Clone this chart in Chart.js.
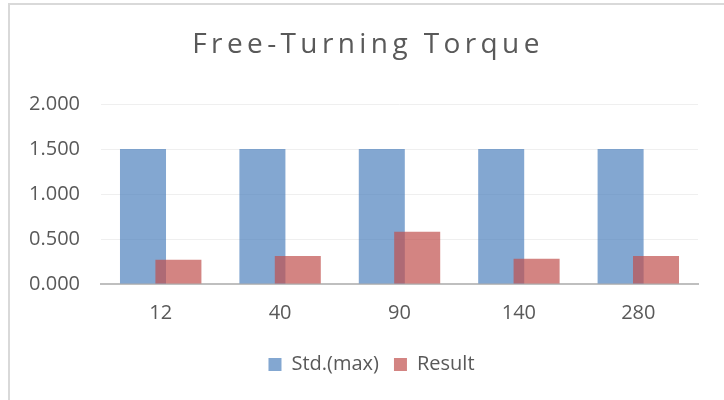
<!DOCTYPE html>
<html><head><meta charset="utf-8">
<script src="https://cdn.jsdelivr.net/npm/chart.js@4.4.0/dist/chart.umd.min.js"></script>
<style>
html,body{margin:0;padding:0;background:#fff;overflow:hidden;width:724px;height:400px;}
#frame{position:absolute;left:8px;top:3px;width:800px;height:500px;border-left:2px solid #d9d9d9;border-top:2px solid #d9d9d9;box-sizing:border-box;}
#wrap{position:absolute;left:0;top:0;width:724px;height:400px;}
</style></head><body>
<div id="frame"></div>
<div id="wrap"><canvas id="c"></canvas></div>
<script>
const categories = ['12', '40', '90', '140', '280'];
const stdMax = [1.5, 1.5, 1.5, 1.5, 1.5];
const result = [0.27, 0.31, 0.58, 0.28, 0.31];
const yTickValues = [0, 0.5, 1, 1.5, 2];
const yTickLabels = ['0.000', '0.500', '1.000', '1.500', '2.000'];
const seriesNames = ['Std.(max)', 'Result'];
const chartTitle = 'Free-Turning Torque';

const FONT = "'Open Sans', sans-serif";
Chart.defaults.font.family = FONT;
Chart.defaults.color = '#595959';

function patchBox(box, dx, spacing) {
  if (!box || box.$patched) return;
  const orig = box.draw.bind(box);
  box.draw = function () {
    const c = this.ctx;
    c.save();
    c.translate(dx, 0);
    if (spacing) c.letterSpacing = spacing;
    orig();
    c.restore();
  };
  box.$patched = true;
}

// draw the Result series on top of Std.(max), as in the reference
const resultOnTop = {
  id: 'resultOnTop',
  beforeDatasetDraw(chart, args) {
    if (args.index === 1 && !chart.$topPass) return false;
  },
  afterDatasetsDraw(chart) {
    chart.$topPass = true;
    chart.getDatasetMeta(1).controller.draw();
    chart.$topPass = false;
  },
  beforeDraw(chart) {
    patchBox(chart.titleBlock, 9.5, '4.4px');
    patchBox(chart.legend, 13, null);
  }
};

new Chart(document.getElementById('c'), {
  type: 'bar',
  data: {
    labels: categories,
    datasets: [
      { label: seriesNames[0], data: stdMax, backgroundColor: 'rgba(79,129,189,0.7)', borderWidth: 0 },
      { label: seriesNames[1], data: result, backgroundColor: 'rgba(192,80,77,0.7)', borderWidth: 0 }
    ]
  },
  options: {
    responsive: true,
    maintainAspectRatio: false,
    animation: false,
    categoryPercentage: 0.593,
    barPercentage: 1.3,
    layout: { padding: { left: 19, right: 26, top: 0, bottom: 15.5 } },
    plugins: {
      title: {
        display: true,
        text: chartTitle,
        color: '#595959',
        font: { size: 28, weight: 'normal', family: FONT },
        padding: { top: 28, bottom: 42.4 }
      },
      legend: {
        position: 'bottom',
        labels: {
          boxWidth: 13,
          boxHeight: 13,
          padding: 15,
          color: '#595959',
          font: { size: 20, family: FONT }
        }
      },
      tooltip: { enabled: false }
    },
    scales: {
      x: {
        grid: { display: false, drawTicks: false },
        border: { display: true, color: '#bfbfbf', width: 2 },
        ticks: { padding: 17.5, color: '#595959', font: { size: 20, family: FONT } },
        afterFit(scale) { scale.height = 55.5; }
      },
      y: {
        min: 0,
        max: 2,
        afterBuildTicks(scale) { scale.ticks = yTickValues.map(v => ({ value: v })); },
        grid: { color: '#efefef', lineWidth: 1, drawTicks: false },
        border: { display: false },
        ticks: {
          padding: 21,
          color: '#595959',
          font: { size: 20, family: FONT },
          callback(value, index) { return yTickLabels[index]; }
        },
        afterFit(scale) { scale.width = 82; }
      }
    }
  },
  plugins: [resultOnTop]
});
</script>
</body></html>
